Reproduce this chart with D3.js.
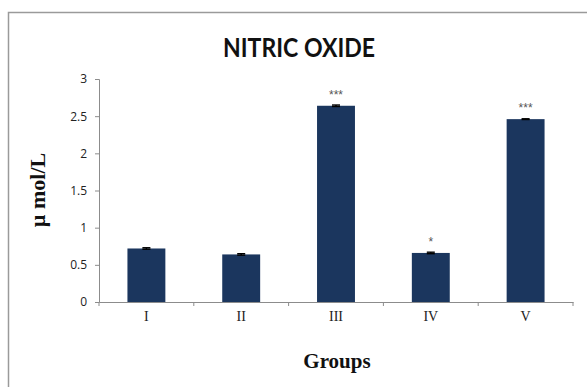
<!DOCTYPE html>
<html>
<head>
<meta charset="utf-8">
<script src="https://cdn.jsdelivr.net/npm/d3@7"></script>
<style>
  html, body { margin: 0; padding: 0; background: #fff; }
  svg { display: block; }
</style>
</head>
<body>
<svg id="chart" width="587" height="387"></svg>
<script>
// Nitric oxide level per group (µmol/L)
const groups = ["I", "II", "III", "IV", "V"];
const values = [0.72, 0.64, 2.64, 0.66, 2.46];
const errors = [0.01, 0.01, 0.01, 0.01, 0.005];
const marks = ["", "", "***", "*", "***"];
const yTicks = [0, 0.5, 1, 1.5, 2, 2.5, 3];

const svg = d3.select("#chart");
const W = 587, H = 387;
const plot = { left: 99, right: 573, top: 79, bottom: 302 };

// outer chart frame (only top and left edges fall inside the view)
svg.append("rect")
  .attr("x", 8.5).attr("y", 12.5)
  .attr("width", W + 20).attr("height", H + 20)
  .attr("fill", "#fff")
  .attr("stroke", "#9a9a9a").attr("stroke-width", 1.5);

const x = d3.scaleBand().domain(groups).range([plot.left, plot.right]).paddingInner(0.6).paddingOuter(0.3);
const y = d3.scaleLinear().domain([0, 3]).range([plot.bottom, plot.top]);

// title
svg.append("text")
  .attr("x", 299).attr("y", 57)
  .attr("text-anchor", "middle")
  .attr("font-family", "Lato, 'Open Sans', sans-serif")
  .attr("font-weight", "bold")
  .attr("font-size", 27)
  .attr("textLength", 152).attr("lengthAdjust", "spacingAndGlyphs")
  .attr("fill", "#111")
  .text("NITRIC OXIDE");

// y axis
const yAxis = svg.append("g")
  .attr("transform", `translate(${plot.left},0)`)
  .call(d3.axisLeft(y).tickValues(yTicks).tickSize(4).tickPadding(8).tickFormat(d3.format("")));
yAxis.select(".domain").attr("stroke", "#8c8c8c");
yAxis.selectAll(".tick line").attr("stroke", "#8c8c8c");
yAxis.selectAll(".tick text")
  .attr("font-family", "'Open Sans', sans-serif")
  .attr("font-size", 12)
  .attr("fill", "#222");

// x axis with ticks on band boundaries
const xAxis = svg.append("g")
  .attr("transform", `translate(0,${plot.bottom})`)
  .call(d3.axisBottom(x).tickSize(0).tickPadding(9));
xAxis.select(".domain").attr("stroke", "#8c8c8c");
xAxis.selectAll(".tick text")
  .attr("font-family", "'Liberation Serif', 'Times New Roman', serif")
  .attr("font-size", 14)
  .attr("fill", "#222");
const boundaries = d3.range(groups.length + 1).map(i => plot.left + i * (plot.right - plot.left) / groups.length);
xAxis.selectAll("line.bound")
  .data(boundaries)
  .join("line")
  .attr("class", "bound")
  .attr("x1", d => d).attr("x2", d => d)
  .attr("y1", 0).attr("y2", 4)
  .attr("stroke", "#8c8c8c");

// bars
svg.append("g").selectAll("rect")
  .data(groups)
  .join("rect")
  .attr("x", (d) => x(d))
  .attr("y", (d, i) => y(values[i]))
  .attr("width", x.bandwidth())
  .attr("height", (d, i) => y(0) - y(values[i]))
  .attr("fill", "#1b365e");

// error bars
const eb = svg.append("g").attr("stroke", "#000").attr("stroke-width", 1.4);
groups.forEach((g, i) => {
  const cx = x(g) + x.bandwidth() / 2;
  eb.append("line").attr("x1", cx).attr("x2", cx)
    .attr("y1", y(values[i] - errors[i])).attr("y2", y(values[i] + errors[i]));
  [values[i] - errors[i], values[i] + errors[i]].forEach(v => {
    eb.append("line").attr("x1", cx - 4).attr("x2", cx + 4)
      .attr("y1", y(v)).attr("y2", y(v));
  });
});

// significance markers
svg.append("g").selectAll("text")
  .data(groups)
  .join("text")
  .attr("x", d => x(d) + x.bandwidth() / 2)
  .attr("y", (d, i) => y(values[i]) - 7)
  .attr("text-anchor", "middle")
  .attr("font-family", "'Liberation Sans', Arial, sans-serif")
  .attr("font-size", 12)
  .attr("fill", "#555")
  .text((d, i) => marks[i]);

// axis titles
svg.append("text")
  .attr("transform", `translate(45,190) rotate(-90)`)
  .attr("text-anchor", "middle")
  .attr("font-family", "'Liberation Serif', 'Times New Roman', serif")
  .attr("font-weight", "bold")
  .attr("font-size", 22)
  .attr("fill", "#111")
  .text("µ mol/L");

svg.append("text")
  .attr("x", 337).attr("y", 368)
  .attr("text-anchor", "middle")
  .attr("font-family", "'Liberation Serif', 'Times New Roman', serif")
  .attr("font-weight", "bold")
  .attr("font-size", 21)
  .attr("fill", "#111")
  .text("Groups");
</script>
</body>
</html>
